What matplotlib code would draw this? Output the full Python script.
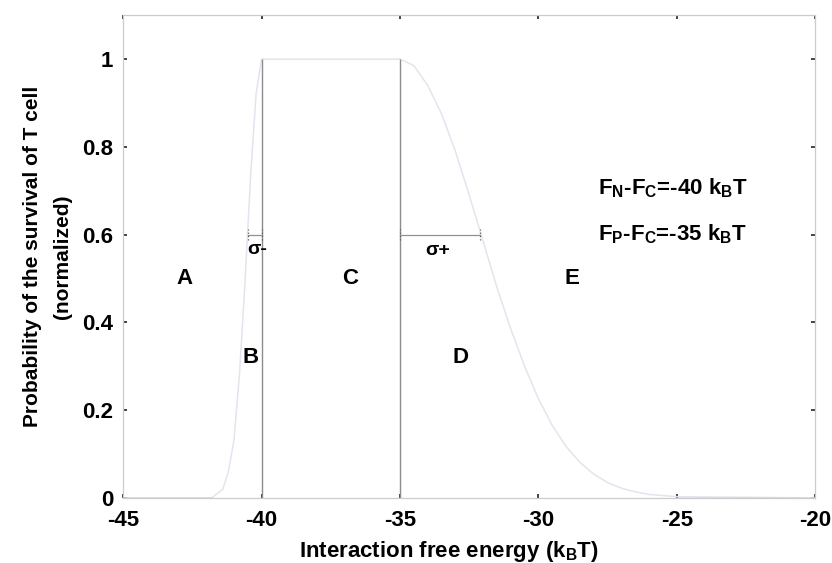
import numpy as np
import matplotlib
matplotlib.use("Agg")
import matplotlib.pyplot as plt

plt.rcParams['font.family'] = ['Liberation Sans', 'DejaVu Sans']
plt.rcParams['font.weight'] = 'bold'
plt.rcParams['axes.unicode_minus'] = False
plt.rcParams['mathtext.fontset'] = 'custom'
plt.rcParams['mathtext.rm'] = 'Liberation Sans:bold'
plt.rcParams['mathtext.default'] = 'rm'

# survival curve (normalized), read point by point
energy = [-45, -41.8, -41.6, -41.4, -41.2, -41.0, -40.8, -40.6, -40.4, -40.2, -40.0,
          -35.0, -34.5, -34.0, -33.5, -33.0, -32.5, -32.0, -31.5, -31.0, -30.5,
          -30.0, -29.5, -29.0, -28.5, -28.0, -27.5, -27.0, -26.5, -26.0, -25.0, -20.0]
survival = [0.0, 0.0, 0.01, 0.02, 0.06, 0.13, 0.28, 0.49, 0.73, 0.92, 1.0,
            1.0, 0.985, 0.94, 0.875, 0.79, 0.69, 0.585, 0.48, 0.385, 0.30,
            0.226, 0.165, 0.117, 0.081, 0.054, 0.035, 0.022, 0.014, 0.008, 0.003, 0.0]

f_n = -40   # F_N - F_C
f_p = -35   # F_P - F_C
sigma_minus = 0.5
sigma_plus = 2.9
bar_y = 0.6

region_labels = ['A', 'B', 'C', 'D', 'E']
region_x = [-42.8, -40.4, -36.8, -32.8, -28.8]
region_y = [0.5, 0.32, 0.5, 0.32, 0.5]

fig = plt.figure(figsize=(8.32, 5.63), dpi=100)
ax = fig.add_axes([0.148, 0.1155, 0.832, 0.8575])

ax.plot(energy, survival, color='#e2e5ee', lw=1.1, zorder=2)
ax.plot([-45, -41.8], [0, 0], color='#a8acc4', lw=1.0, zorder=2)
ax.plot([-25, -20], [0, 0], color='#a8acc4', lw=1.0, zorder=2)

# thresholds
ax.vlines([f_n, f_p], 0, 1, color='#8c8c8c', lw=1.0, zorder=3)

# sigma bars
for x0, x1 in [(f_n - sigma_minus, f_n), (f_p, f_p + sigma_plus)]:
    ax.plot([x0, x1], [bar_y, bar_y], color='#909090', lw=0.9, zorder=3)
    for xc in (x0, x1):
        ax.plot([xc, xc], [bar_y - 0.012, bar_y + 0.012], color='#606060',
                lw=0.9, ls=':', zorder=3)

ax.text(f_n - 0.15, 0.566, u'\u03c3-', fontsize=14, fontweight='bold',
        ha='center', va='center')
ax.text(f_p + 1.35, 0.565, u'\u03c3+', fontsize=14, fontweight='bold',
        ha='center', va='center')

for lab, x, y in zip(region_labels, region_x, region_y):
    ax.text(x, y, lab, fontsize=16, fontweight='bold', ha='center', va='center')

ax.text(-27.85, 0.705, r'F$_{N}$-F$_{C}$=%d k$_{B}$T' % f_n, fontsize=16,
        fontweight='bold', ha='left', va='center')
ax.text(-27.85, 0.602, r'F$_{P}$-F$_{C}$=%d k$_{B}$T' % f_p, fontsize=16,
        fontweight='bold', ha='left', va='center')

ax.set_xlim(-45, -20)
ax.set_ylim(0, 1.1)
ax.set_xticks([-45, -40, -35, -30, -25, -20])
ax.set_yticks([0, 0.2, 0.4, 0.6, 0.8, 1])
ax.set_yticklabels(['0', '0.2', '0.4', '0.6', '0.8', '1'])
ax.tick_params(direction='in', length=3, width=1.2, color='#222222',
               top=True, right=True, labelsize=16)
ax.tick_params(axis='x', pad=9)
ax.tick_params(axis='y', pad=7)
for lab in ax.get_xticklabels() + ax.get_yticklabels():
    lab.set_fontweight('bold')
for sp in ax.spines.values():
    sp.set_color('#cccccc')
    sp.set_linewidth(0.9)

ax.set_xlabel(r'Interaction free energy (k$_{B}$T)', fontsize=16,
              fontweight='bold')
ax.xaxis.set_label_coords(0.47, -0.085)
ax.set_ylabel('Probability of the survival of T cell\n(normalized)',
              fontsize=15, fontweight='bold', linespacing=1.75)
ax.yaxis.set_label_coords(-0.074, 0.5)

fig.savefig('out.png', dpi=100)
